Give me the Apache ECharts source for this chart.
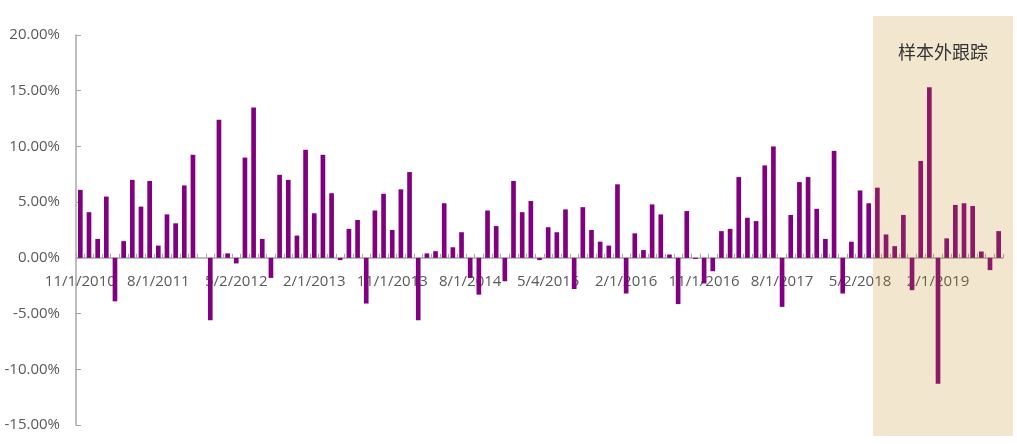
<!DOCTYPE html>
<html>
<head>
<meta charset="utf-8">
<script src="https://cdn.jsdelivr.net/npm/echarts@6/dist/echarts.min.js"></script>
<style>
html,body{margin:0;padding:0;background:#fff;}
#chart{width:1017px;height:444px;}
</style>
</head>
<body>
<div id="chart"></div>
<script>
// Monthly categories from 11/2010 to 9/2019; labels shown as in the reference
const startYear = 2010, startMonth = 11, monthCount = 107;
const labelDays = {"2012-5": 2, "2015-5": 4, "2018-5": 2};
const categories = [];
for (let i = 0; i < monthCount; i++) {
  const m0 = startMonth - 1 + i;
  const y = startYear + Math.floor(m0 / 12);
  const m = (m0 % 12) + 1;
  const d = labelDays[y + "-" + m] || 1;
  categories.push(m + "/" + d + "/" + y);
}

// Monthly returns (%)
const returns = [
  6.1, 4.1, 1.7, 5.5, -3.9, 1.5, 7.0, 4.6, 6.9, 1.1,
  3.9, 3.1, 6.5, 9.25, 0, -5.6, 12.4, 0.4, -0.5, 9.0,
  13.5, 1.7, -1.8, 7.45, 7.0, 2.0, 9.7, 4.0, 9.25, 5.8,
  -0.2, 2.6, 3.4, -4.1, 4.25, 5.75, 2.5, 6.15, 7.7, -5.6,
  0.4, 0.6, 4.9, 0.95, 2.3, -1.8, -3.3, 4.25, 2.85, -2.1,
  6.9, 4.1, 5.1, -0.2, 2.75, 2.3, 4.35, -2.8, 4.55, 2.5,
  1.45, 1.1, 6.6, -3.2, 2.2, 0.7, 4.8, 3.9, 0.3, -4.15,
  4.2, -0.1, -2.3, -1.2, 2.4, 2.6, 7.25, 3.6, 3.3, 8.3,
  10.0, -4.4, 3.85, 6.8, 7.25, 4.4, 1.7, 9.6, -3.2, 1.45,
  6.05, 4.9, 6.3, 2.1, 1.05, 3.85, -2.9, 8.7, 15.3, -11.3,
  1.75, 4.75, 4.9, 4.65, 0.57, -1.1, 2.4
];

const yTicks = {min: -15, max: 20, step: 5};
const outOfSampleStart = 92; // first out-of-sample month index (7/2018)
const shadeTitle = "样本外跟踪";

const chart = echarts.init(document.getElementById('chart'), null, {renderer: 'canvas'});
const font = "'Open Sans', 'Noto Sans', sans-serif";
chart.setOption({
  animation: false,
  backgroundColor: '#ffffff',
  grid: {left: 76, right: 14, top: 35, bottom: 19, containLabel: false, outerBoundsMode: 'none'},
  xAxis: {
    type: 'category',
    data: categories,
    boundaryGap: true,
    axisLine: {onZero: false, lineStyle: {color: '#A6A6A6', width: 1.5}},
    axisTick: {show: true, interval: 0, inside: true, length: 4, lineStyle: {color: '#A6A6A6', width: 1}},
    axisLabel: {interval: 8, color: '#595959', fontSize: 15, fontFamily: font, margin: 16},
    splitLine: {show: false}
  },
  yAxis: {
    type: 'value',
    min: yTicks.min, max: yTicks.max, interval: yTicks.step,
    axisLine: {show: true, lineStyle: {color: '#A6A6A6', width: 1.5}},
    axisTick: {show: true, inside: true, length: 5, lineStyle: {color: '#A6A6A6'}},
    axisLabel: {color: '#595959', fontSize: 15, fontFamily: font, margin: 16,
      formatter: v => v.toFixed(2) + '%'},
    splitLine: {show: false}
  },
  series: [{
    type: 'bar',
    data: returns,
    barWidth: '54%',
    itemStyle: {color: '#800080'}
  }]
});

// Move the category axis (line, ticks, labels) up to the zero line
const yZero = chart.convertToPixel({yAxisIndex: 0}, 0);
const yBottom = chart.convertToPixel({yAxisIndex: 0}, yTicks.min);
chart.setOption({xAxis: {offset: -(yBottom - yZero)}});

// Out-of-sample shaded region, positioned from the axis scales
const band = chart.convertToPixel({xAxisIndex: 0}, 1) - chart.convertToPixel({xAxisIndex: 0}, 0);
const xLeft = chart.convertToPixel({xAxisIndex: 0}, outOfSampleStart) - band / 2;
const yTop = chart.convertToPixel({yAxisIndex: 0}, yTicks.max) - 19;
const yBot = yBottom + 11;
const xRight = chart.convertToPixel({xAxisIndex: 0}, monthCount - 1) + band / 2 + 10;
chart.setOption({
  graphic: [
    {type: 'rect', z: 100, silent: true,
      shape: {x: xLeft, y: yTop, width: xRight - xLeft, height: yBot - yTop},
      style: {fill: 'rgba(190,128,14,0.2)'}},
    {type: 'text', z: 101, silent: true,
      x: (xLeft + xRight) / 2, y: 52,
      style: {text: shadeTitle, fill: '#333333', fontSize: 18,
        fontFamily: "'Noto Sans CJK SC', sans-serif", align: 'center', verticalAlign: 'middle'}}
  ]
});
</script>
</body>
</html>
